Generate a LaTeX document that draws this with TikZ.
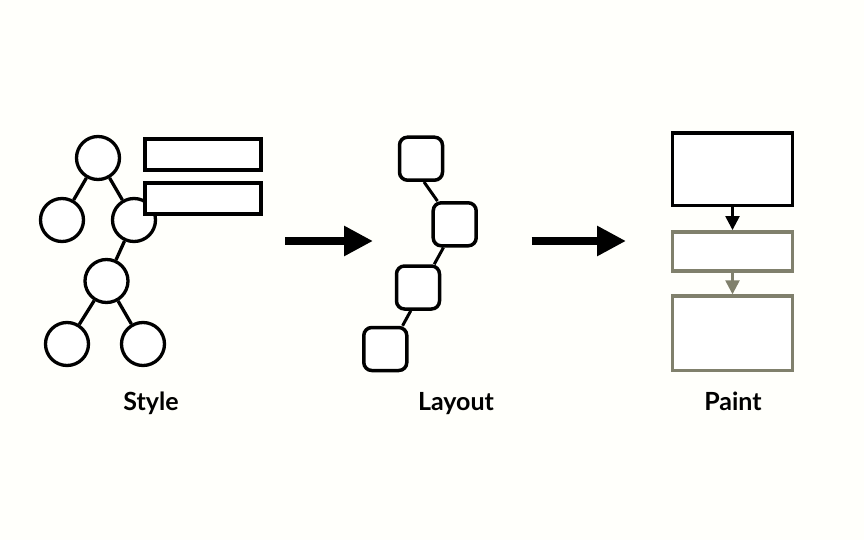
\documentclass[tikz,border=0pt]{standalone}
\usepackage{fontspec}
\setmainfont{Lato}
\usetikzlibrary{arrows.meta,calc}
\definecolor{paper}{HTML}{FFFFFB}
\definecolor{faded}{HTML}{80806C}
\begin{document}
\begin{tikzpicture}[x=1pt,y=-1pt,
  treenode/.style={circle,draw=black,fill=white,line width=3.3pt,minimum size=43pt,inner sep=0pt},
  treeedge/.style={line width=3.3pt},
  tag/.style={rectangle,draw=black,fill=white,line width=4pt,minimum width=116.5pt,minimum height=31.5pt,inner sep=0pt},
  box/.style={rectangle,rounded corners=8pt,draw=black,fill=white,line width=3.5pt,minimum size=43pt,inner sep=0pt},
  boxedge/.style={line width=3pt},
  layer/.style={rectangle,draw=#1,fill=white,line width=3.5pt,minimum width=120pt,inner sep=0pt},
  flow/.style={draw=#1,line width=2.5pt,-{Triangle[length=14pt,width=14pt]},color=#1},
  stage/.style={line width=7.5pt,-{Triangle[length=29pt,width=28.5pt]}},
  caption/.style={anchor=base,font=\bfseries\fontsize{25}{30}\selectfont}]
% canvas
\fill[paper] (0,0) rectangle (864,540);

% ---- Style: a tree of circles with attached rule boxes
\node[treenode] (root) at (98,158) {};
\node[treenode] (l)    at (62,220) {};
\node[treenode] (r)    at (134,220) {};
\node[treenode] (m)    at (106.5,281) {};
\node[treenode] (bl)   at (67,344) {};
\node[treenode] (br)   at (143,344) {};
\draw[treeedge] (root) -- (l);
\draw[treeedge] (root) -- (r);
\draw[treeedge] (r) -- (m);
\draw[treeedge] (m) -- (bl);
\draw[treeedge] (m) -- (br);
\node[tag] (t1) at (203,154.5) {};
\node[tag] (t2) at (203,198.5) {};

% ---- Layout: a chain of rounded boxes
\node[box] (s1) at (421,158.7) {};
\node[box] (s2) at (454.7,224.3) {};
\node[box] (s3) at (418,287.5) {};
\node[box] (s4) at (385.3,349) {};
\draw[boxedge] ($(s1.south)+(3,0)$) -- ($(s2.north west)+(6,0)$);
\draw[boxedge] ($(s2.south west)+(12,0)$) -- ($(s3.north east)+(-7,0)$);
\draw[boxedge] ($(s3.south west)+(16,0)$) -- ($(s4.north east)+(-6,0)$);

% ---- Paint: stacked layers
\node[layer=black,minimum height=72.7pt] (p1) at (732.5,169.2) {};
\node[layer=faded,minimum height=39pt]   (p2) at (732.5,251.3) {};
\node[layer=faded,minimum height=74.5pt] (p3) at (732.5,333.3) {};
\draw[flow=black] (p1.south) -- (p2.north);
\draw[flow=faded] (p2.south) -- (p3.north);

% ---- stage arrows
\coordinate (a1s) at (285,241);
\coordinate (a1e) at (373,241);
\coordinate (a2s) at (531.5,241);
\coordinate (a2e) at (626,241);
\draw[stage] (a1s) -- (a1e);
\draw[stage] (a2s) -- (a2e);

% ---- captions
\node[caption] (c1) at (151,410.5) {Style};
\node[caption] (c2) at (456,410.5) {Layout};
\node[caption] (c3) at (733,410.5) {Paint};
\end{tikzpicture}
\end{document}
